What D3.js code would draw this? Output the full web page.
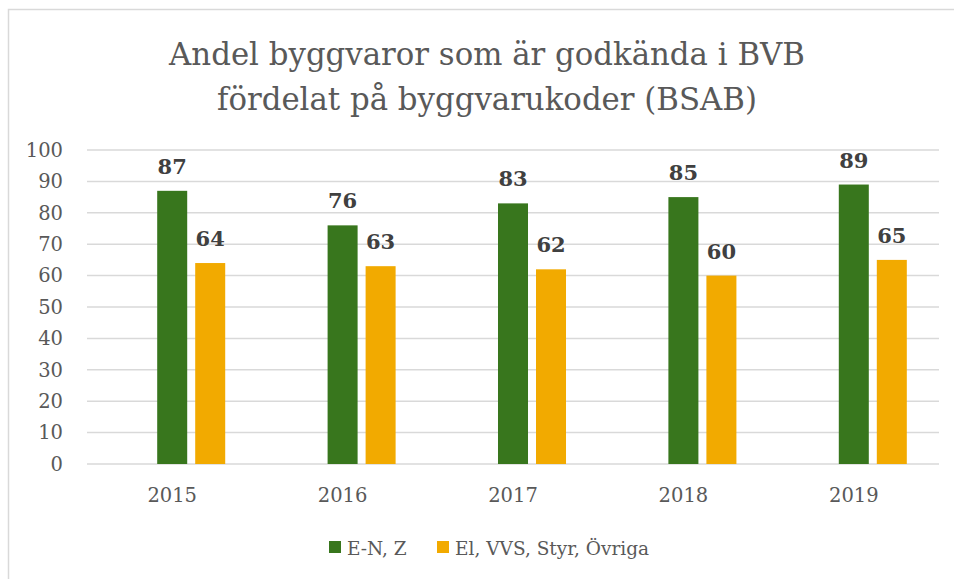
<!DOCTYPE html>
<html>
<head>
<meta charset="utf-8">
<script src="https://cdn.jsdelivr.net/npm/d3@7"></script>
<style>
  body { margin: 0; background: #fff; }
  text { font-family: "DejaVu Serif", serif; }
</style>
</head>
<body>
<div id="chart"></div>
<script>
// år och serier
var years = ["2015", "2016", "2017", "2018", "2019"];
var series = ["E-N, Z", "El, VVS, Styr, Övriga"];
var data_EN = [87, 76, 83, 85, 89];
var data_El = [64, 63, 62, 60, 65];
var yTicks = [0, 10, 20, 30, 40, 50, 60, 70, 80, 90, 100];
var titleLines = ["Andel byggvaror som är godkända i BVB", "fördelat på byggvarukoder (BSAB)"];

var color = ["#38761d", "#f2aa00"];
var values = [data_EN, data_El];

var W = 954, H = 579;
var svg = d3.select("#chart").append("svg")
    .attr("width", W)
    .attr("height", H);

// ram
svg.append("path")
    .attr("d", "M8.5," + H + " V9.5 H" + W)
    .attr("fill", "none")
    .attr("stroke", "#d9d9d9")
    .attr("stroke-width", 1.5);

// titel
svg.selectAll(".title").data(titleLines).enter().append("text")
    .attr("x", 487)
    .attr("y", function(d, i) { return 65 + i * 45; })
    .attr("text-anchor", "middle")
    .attr("fill", "#595959")
    .style("font-size", "30.8px")
    .text(function(d) { return d; });

var x = d3.scaleBand().domain(years).range([87, 939]);
// tre platser per kategori, den första är tom
var xs = d3.scaleBand().domain([0, 1, 2]).range([0, x.bandwidth()])
    .paddingInner(8 / 38).paddingOuter(0.847);
var y = d3.scaleLinear().domain([0, 100]).range([464, 150]);

// rutnät
svg.selectAll(".grid").data(yTicks).enter().append("line")
    .attr("x1", 87)
    .attr("x2", 939)
    .attr("y1", function(d) { return y(d); })
    .attr("y2", function(d) { return y(d); })
    .attr("stroke", "#d9d9d9")
    .attr("stroke-width", 1.5);

// y-axel
svg.selectAll(".ytick").data(yTicks).enter().append("text")
    .attr("x", 63)
    .attr("y", function(d) { return y(d); })
    .attr("dy", "0.35em")
    .attr("text-anchor", "end")
    .attr("fill", "#595959")
    .style("font-size", "19.5px")
    .text(function(d) { return d; });

// x-axel
svg.selectAll(".xtick").data(years).enter().append("text")
    .attr("x", function(d) { return x(d) + x.bandwidth() / 2; })
    .attr("y", 502)
    .attr("text-anchor", "middle")
    .attr("fill", "#595959")
    .style("font-size", "19.5px")
    .text(function(d) { return d; });

// staplar
for (var s = 0; s < series.length; s++) {
    var g = svg.append("g");
    g.selectAll("rect").data(years).enter().append("rect")
        .attr("x", function(d) { return x(d) + xs(s + 1); })
        .attr("y", function(d, i) { return y(values[s][i]); })
        .attr("width", xs.bandwidth())
        .attr("height", function(d, i) { return y(0) - y(values[s][i]); })
        .attr("fill", color[s]);

    g.selectAll("text").data(years).enter().append("text")
        .attr("x", function(d) { return x(d) + xs(s + 1) + xs.bandwidth() / 2; })
        .attr("y", function(d, i) { return y(values[s][i]) - 17; })
        .attr("text-anchor", "middle")
        .attr("fill", "#404040")
        .attr("font-weight", "bold")
        .style("font-size", "21px")
        .text(function(d, i) { return values[s][i]; });
}

// förklaring
var legendX = [329, 437];
for (var i = 0; i < series.length; i++) {
    svg.append("rect")
        .attr("x", legendX[i])
        .attr("y", 541)
        .attr("width", 12)
        .attr("height", 12)
        .attr("fill", color[i]);
    svg.append("text")
        .attr("x", legendX[i] + 18)
        .attr("y", 555)
        .attr("fill", "#595959")
        .style("font-size", "18.5px")
        .text(series[i]);
}
</script>
</body>
</html>
